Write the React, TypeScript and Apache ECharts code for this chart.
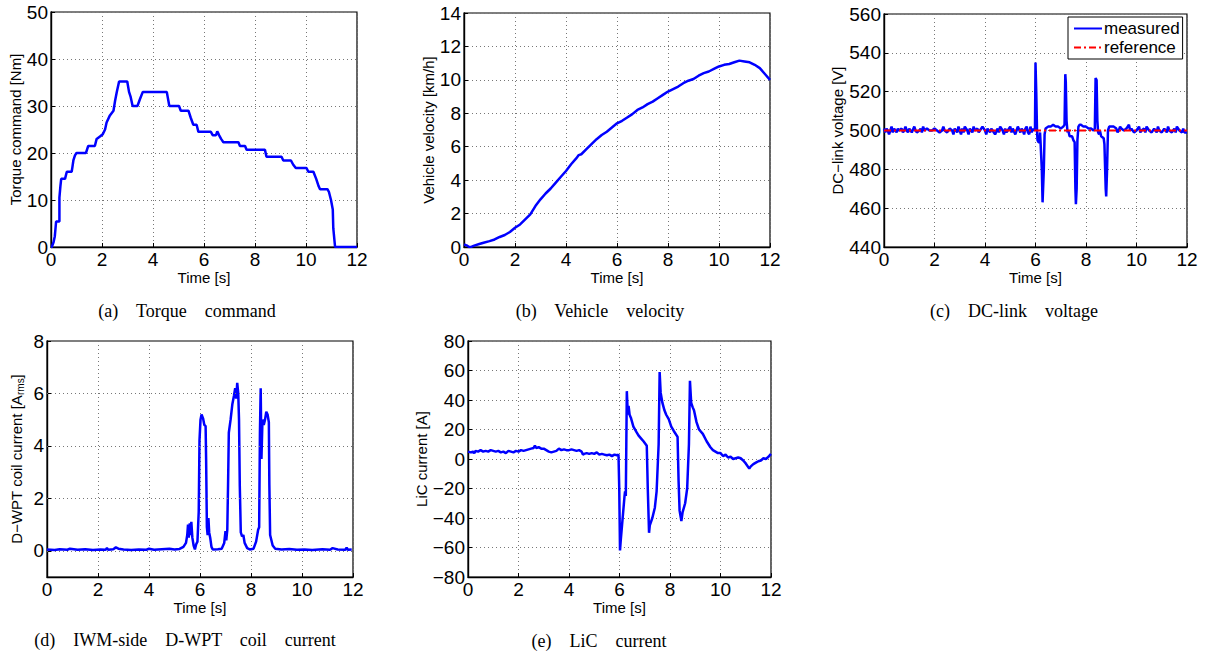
import React, { useEffect, useRef } from "react";
import * as echarts from "echarts";

const SANS = "Liberation Sans, Arial, Helvetica, sans-serif";
const SERIF = "Liberation Serif, Times New Roman, serif";
const BLUE = "#0000ff";

// (a) Torque command [Nm] vs time [s]
const torque: number[][] = [
  [0, 0], [0.03, 0], [0.1, 1], [0.15, 2.3], [0.2, 5.4], [0.33, 5.4], [0.33, 10.5], [0.37, 13], [0.4, 14.5],
  [0.55, 14.5], [0.62, 16], [0.81, 16], [0.84, 17], [0.88, 18.5], [0.94, 19.5], [1.0, 20], [1.37, 20],
  [1.46, 21.5], [1.72, 21.5], [1.79, 23], [1.92, 23.5], [2.03, 24], [2.12, 25], [2.18, 26.5], [2.31, 28],
  [2.45, 29], [2.51, 31], [2.58, 33], [2.67, 35.2], [2.99, 35.2], [3.06, 33], [3.12, 32], [3.2, 30],
  [3.39, 30], [3.49, 31.5], [3.6, 33], [4.54, 33], [4.64, 30], [5.02, 30], [5.09, 29], [5.39, 29],
  [5.48, 27.5], [5.58, 26], [5.71, 26], [5.78, 24.5], [6.27, 24.5], [6.34, 23.8], [6.47, 23.8],
  [6.52, 24.6], [6.59, 23.8], [6.67, 23], [6.76, 22.3], [7.35, 22.3], [7.41, 21.5], [7.61, 21.5],
  [7.67, 20.7], [8.39, 20.7], [8.45, 19.2], [9.04, 19.2], [9.11, 18.4], [9.41, 18.4], [9.5, 17.5],
  [9.6, 16.8], [10.02, 16.8], [10.09, 16], [10.29, 16], [10.4, 14.5], [10.49, 13], [10.55, 12.3],
  [10.84, 12.3], [10.9, 11.7], [10.98, 10], [11.05, 8], [11.07, 4], [11.14, 0], [12, 0],
];

// (b) Vehicle velocity [km/h]
const velocity: number[][] = [
  [0, 0.15], [0.1, 0.1], [0.2, 0.0], [0.3, 0.02], [0.4, 0.08], [0.6, 0.18], [0.8, 0.27], [1.0, 0.35],
  [1.2, 0.45], [1.4, 0.6], [1.6, 0.72], [1.8, 0.9], [2.0, 1.15], [2.2, 1.35], [2.4, 1.65], [2.6, 1.95],
  [2.8, 2.45], [3.0, 2.85], [3.2, 3.2], [3.4, 3.5], [3.6, 3.85], [3.8, 4.2], [4.0, 4.55], [4.2, 4.95],
  [4.4, 5.3], [4.5, 5.5], [4.6, 5.55], [4.8, 5.85], [5.0, 6.15], [5.2, 6.45], [5.4, 6.7], [5.6, 6.9],
  [5.8, 7.15], [6.0, 7.4], [6.2, 7.55], [6.4, 7.75], [6.6, 7.95], [6.8, 8.2], [7.0, 8.35], [7.2, 8.55],
  [7.4, 8.7], [7.6, 8.9], [7.8, 9.1], [8.0, 9.3], [8.2, 9.45], [8.4, 9.6], [8.6, 9.8], [8.8, 9.95],
  [9.0, 10.05], [9.2, 10.25], [9.4, 10.4], [9.6, 10.5], [9.8, 10.65], [10.0, 10.8], [10.2, 10.9],
  [10.4, 10.95], [10.6, 11.05], [10.8, 11.15], [11.0, 11.1], [11.2, 11.05], [11.4, 10.9], [11.6, 10.7],
  [11.8, 10.35], [12.0, 10.0],
];

// (c) DC-link voltage [V], measured
const dcMeasured: number[][] = [
  [0, 501], [0.05, 499], [0.1, 501], [0.15, 500], [0.2, 498], [0.25, 500], [0.3, 502], [0.35, 499],
  [0.4, 501], [0.45, 500], [0.5, 499], [0.55, 501], [0.6, 500], [0.7, 501], [0.75, 499], [0.8, 500],
  [0.85, 502], [0.9, 500], [0.95, 499], [1.0, 501], [1.05, 500], [1.1, 499], [1.2, 502], [1.25, 500],
  [1.3, 499], [1.4, 500], [1.45, 501], [1.5, 499], [1.55, 502], [1.6, 500], [1.7, 501], [1.8, 500],
  [1.9, 500], [2.0, 501], [2.1, 500], [2.2, 499], [2.3, 500], [2.35, 502], [2.4, 500], [2.5, 499],
  [2.6, 501], [2.7, 500], [2.75, 498], [2.8, 501], [2.9, 499], [2.95, 502], [3.0, 500], [3.05, 498],
  [3.1, 501], [3.15, 499], [3.2, 502], [3.3, 500], [3.35, 498], [3.4, 501], [3.5, 499], [3.55, 502],
  [3.6, 500], [3.7, 501], [3.75, 499], [3.8, 500], [3.9, 502], [4.0, 500], [4.05, 498], [4.1, 501],
  [4.2, 499], [4.25, 501], [4.3, 500], [4.4, 498], [4.5, 501], [4.55, 499], [4.6, 502], [4.7, 500],
  [4.75, 498], [4.8, 501], [4.85, 499], [4.9, 500], [5.0, 502], [5.05, 499], [5.1, 501], [5.2, 498],
  [5.25, 500], [5.3, 502], [5.4, 499], [5.45, 501], [5.5, 500], [5.55, 498], [5.6, 501], [5.65, 502],
  [5.7, 499], [5.75, 498], [5.8, 502], [5.85, 499], [5.9, 501], [5.95, 500], [5.98, 501], [6.0, 535],
  [6.03, 520], [6.06, 500], [6.08, 495], [6.12, 494], [6.15, 494], [6.18, 499], [6.2, 494], [6.25, 480],
  [6.28, 463], [6.3, 463], [6.33, 480], [6.36, 498], [6.4, 501], [6.5, 502], [6.6, 502], [6.7, 503],
  [6.8, 502], [6.9, 502], [7.0, 501], [7.1, 502], [7.15, 503], [7.18, 529], [7.2, 525], [7.23, 505],
  [7.27, 499], [7.3, 500], [7.35, 497], [7.45, 497], [7.5, 495], [7.55, 494], [7.58, 470], [7.6, 462],
  [7.63, 470], [7.66, 495], [7.7, 502], [7.75, 503], [7.8, 503], [7.9, 502], [8.0, 502], [8.1, 501],
  [8.2, 501], [8.3, 500], [8.35, 501], [8.38, 527], [8.42, 526], [8.45, 505], [8.48, 499], [8.52, 498],
  [8.55, 500], [8.6, 497], [8.7, 496], [8.73, 493], [8.78, 470], [8.8, 466], [8.83, 478], [8.87, 500],
  [8.92, 502], [9.0, 502], [9.1, 502], [9.2, 501], [9.25, 499], [9.3, 500], [9.35, 502], [9.4, 501],
  [9.5, 500], [9.6, 501], [9.7, 503], [9.75, 500], [9.8, 501], [9.9, 499], [10.0, 500], [10.1, 502],
  [10.15, 499], [10.2, 500], [10.3, 501], [10.35, 499], [10.4, 502], [10.5, 500], [10.6, 499],
  [10.7, 501], [10.8, 499], [10.85, 502], [10.9, 500], [11.0, 499], [11.1, 501], [11.2, 499],
  [11.25, 502], [11.3, 500], [11.4, 499], [11.5, 501], [11.55, 499], [11.6, 502], [11.7, 500],
  [11.8, 499], [11.85, 501], [11.9, 499], [12.0, 499],
];
const dcReference: number[][] = [[0, 500], [12, 500]];

// (d) IWM-side D-WPT coil current [Arms]
const coilCurrent: number[][] = [
  [0, 0.05], [0.3, 0.03], [0.5, 0.06], [0.8, 0.04], [0.9, 0.08], [1.2, 0.04], [1.5, 0.06], [1.8, 0.03],
  [2.1, 0.05], [2.3, 0.04], [2.35, 0.1], [2.4, 0.04], [2.6, 0.06], [2.7, 0.13], [2.8, 0.08], [3.0, 0.05],
  [3.3, 0.03], [3.6, 0.05], [3.9, 0.04], [4.0, 0.08], [4.2, 0.04], [4.5, 0.06], [4.8, 0.08], [5.0, 0.05],
  [5.2, 0.07], [5.35, 0.15], [5.45, 0.3], [5.5, 0.6], [5.53, 1.0], [5.56, 0.5], [5.6, 1.05], [5.63, 0.6],
  [5.66, 1.1], [5.7, 0.5], [5.75, 0.2], [5.8, 0.05], [5.85, 0.25], [5.9, 0.35], [5.95, 1.5], [5.98, 4.2],
  [6.02, 5.0], [6.06, 5.2], [6.12, 5.05], [6.17, 4.8], [6.22, 4.75], [6.24, 3.5], [6.27, 0.9], [6.3, 0.6],
  [6.33, 1.25], [6.36, 0.7], [6.4, 0.5], [6.45, 0.15], [6.5, 0.05], [6.7, 0.06], [6.85, 0.08], [6.95, 0.3],
  [7.0, 0.75], [7.03, 0.4], [7.07, 0.8], [7.1, 2.5], [7.13, 4.5], [7.2, 5.0], [7.27, 5.6], [7.33, 5.9],
  [7.38, 6.2], [7.42, 5.8], [7.46, 6.4], [7.5, 6.0], [7.53, 5.0], [7.56, 2.5], [7.6, 0.7], [7.65, 0.55],
  [7.7, 0.6], [7.75, 0.3], [7.85, 0.1], [7.95, 0.05], [8.1, 0.08], [8.2, 0.35], [8.28, 0.8], [8.32, 0.9],
  [8.35, 4.5], [8.38, 6.2], [8.41, 3.5], [8.45, 5.0], [8.5, 4.8], [8.55, 5.0], [8.6, 5.3], [8.65, 5.2],
  [8.7, 4.9], [8.72, 2.5], [8.75, 0.6], [8.8, 0.4], [8.85, 0.2], [8.95, 0.08], [9.2, 0.05], [9.5, 0.07],
  [9.8, 0.04], [10.1, 0.05], [10.4, 0.03], [10.8, 0.06], [11.1, 0.04], [11.2, 0.1], [11.4, 0.05],
  [11.7, 0.04], [11.75, 0.12], [11.8, 0.04], [11.95, 0.05],
];
const coilGridValues = [0, 2, 4, 6];

// (e) LiC current [A]
const licCurrent: number[][] = [
  [0, 5], [0.1, 4.5], [0.2, 5], [0.25, 4], [0.3, 5.5], [0.4, 5], [0.5, 6], [0.6, 5], [0.7, 5.5], [0.8, 5],
  [0.9, 6], [1.0, 5.5], [1.1, 5], [1.2, 5.5], [1.3, 4.5], [1.4, 5], [1.5, 4], [1.6, 5.5], [1.7, 5],
  [1.8, 4.5], [1.9, 5.5], [2.0, 5], [2.1, 6], [2.2, 5.5], [2.3, 6], [2.4, 6.5], [2.5, 7], [2.6, 7.5],
  [2.65, 9], [2.7, 7.5], [2.8, 8], [2.9, 7], [3.0, 7], [3.1, 6], [3.2, 5], [3.3, 4.5], [3.4, 5], [3.5, 5.5],
  [3.6, 7], [3.7, 6], [3.8, 6.5], [3.9, 6], [4.0, 6], [4.1, 6.5], [4.2, 6], [4.3, 5.5], [4.4, 6], [4.5, 5],
  [4.55, 3], [4.6, 3.5], [4.7, 4], [4.8, 3.5], [4.9, 4], [5.0, 3.5], [5.1, 4.5], [5.2, 3], [5.3, 3.5],
  [5.4, 3], [5.5, 2.5], [5.6, 3], [5.7, 2], [5.8, 3], [5.9, 2.5], [5.96, 3], [5.99, -20], [6.02, -62],
  [6.05, -55], [6.1, -45], [6.15, -35], [6.2, -25], [6.22, -22], [6.25, -25], [6.27, 10], [6.29, 46],
  [6.33, 30], [6.36, 36], [6.4, 30], [6.45, 28], [6.55, 22], [6.68, 18], [6.75, 16], [6.85, 14],
  [6.95, 12], [7.08, 9], [7.12, -20], [7.17, -50], [7.2, -45], [7.3, -40], [7.4, -33], [7.47, -22],
  [7.55, 10], [7.59, 59], [7.63, 45], [7.7, 38], [7.78, 33], [7.85, 30], [7.95, 27], [8.05, 22],
  [8.15, 19], [8.3, 15], [8.34, -15], [8.38, -35], [8.45, -42], [8.5, -36], [8.6, -30], [8.68, -20],
  [8.75, 10], [8.79, 53], [8.84, 38], [8.9, 35], [8.95, 33], [9.05, 25], [9.15, 20], [9.3, 17],
  [9.45, 12], [9.6, 8], [9.7, 6], [9.8, 5], [9.9, 4], [10.0, 4], [10.1, 2], [10.2, 3], [10.3, 1],
  [10.4, 1.5], [10.5, 0], [10.6, 0.5], [10.7, 1], [10.8, 0.5], [10.9, -1], [11.0, -3], [11.14, -6.5],
  [11.2, -5], [11.3, -3.5], [11.4, -2.5], [11.5, -1.5], [11.6, -1], [11.7, 0.5], [11.8, 0], [11.9, 1.5],
  [12.0, 3.5],
];

const timeTicks = { min: 0, max: 12, interval: 2 };

const captions = [
  { text: "(a)    Torque    command", x: 187, y: 311 },
  { text: "(b)    Vehicle    velocity", x: 600, y: 311 },
  { text: "(c)    DC-link    voltage", x: 1014, y: 311 },
  { text: "(d)    IWM-side    D-WPT    coil    current", x: 185, y: 640 },
  { text: "(e)    LiC    current", x: 599, y: 641 },
];

const grids = [
  { left: 51, top: 12, width: 306, height: 235 },
  { left: 464, top: 13, width: 306, height: 234 },
  { left: 884, top: 14, width: 303, height: 233 },
  { left: 47, top: 341, width: 306, height: 236 },
  { left: 468, top: 341, width: 303, height: 236 },
];

const minusFmt = (v: number) => (v < 0 ? "\u2212" + Math.abs(v) : String(v));

const gridLine = { show: true, lineStyle: { type: [1, 3] as any, color: "#777", width: 1 } };
const TICK_FS = 19;
const NAME_FS = 15;

function xAxisFor(i: number) {
  return {
    type: "value",
    gridIndex: i,
    min: timeTicks.min,
    max: timeTicks.max,
    interval: timeTicks.interval,
    name: "Time [s]",
    nameLocation: "middle",
    nameGap: 21,
    nameTextStyle: { fontFamily: SANS, fontSize: NAME_FS, color: "#000" },
    axisLine: { show: true, onZero: false, lineStyle: { color: "#000", width: 1.4 } },
    axisTick: { show: true, inside: true, length: 4, lineStyle: { color: "#000" } },
    axisLabel: { fontFamily: SANS, fontSize: TICK_FS, color: "#000", margin: 3 },
    splitLine: gridLine,
  };
}

function yAxisFor(i: number, name: any, min: number, max: number, interval: number | undefined, gap: number, extra: any = {}) {
  const ax: any = {
    type: "value",
    gridIndex: i,
    min,
    max,
    name,
    nameLocation: "middle",
    nameGap: gap,
    nameTextStyle: { fontFamily: SANS, fontSize: NAME_FS, color: "#000" },
    axisLine: { show: true, onZero: false, lineStyle: { color: "#000", width: 1.4 } },
    axisTick: { show: true, inside: true, length: 4, lineStyle: { color: "#000" } },
    axisLabel: { fontFamily: SANS, fontSize: TICK_FS, color: "#000", margin: 3, formatter: minusFmt },
    splitLine: gridLine,
    ...extra,
  };
  if (interval !== undefined) ax.interval = interval;
  return ax;
}

function lineSeries(name: string, data: number[][], i: number, extra: any = {}) {
  return {
    type: "line",
    name,
    data,
    xAxisIndex: i,
    yAxisIndex: i,
    showSymbol: false,
    symbol: "none",
    silent: true,
    lineStyle: { color: BLUE, width: 2.5 },
    itemStyle: { color: BLUE },
    ...extra,
  };
}

export default function App() {
  const ref = useRef<HTMLDivElement>(null);
  useEffect(() => {
    document.body.style.margin = "0";
    const chart = echarts.init(ref.current!, null, { renderer: "svg" });
    chart.setOption({
      animation: false,
      backgroundColor: "#fff",
      textStyle: { fontFamily: SANS },
      grid: grids.map((g) => ({ ...g, show: true, borderColor: "#000", borderWidth: 1.2, backgroundColor: "transparent" })),
      xAxis: grids.map((_, i) => xAxisFor(i)),
      yAxis: [
        yAxisFor(0, "Torque command [Nm]", 0, 50, 10, 25.5),
        yAxisFor(1, "Vehicle velocity [km/h]", 0, 14, 2, 26.5),
        yAxisFor(2, "DC\u2212link voltage [V]", 440, 560, 20, 34.5),
        yAxisFor(3, "D\u2212WPT coil current [A{s|rms}]", -1, 8, undefined, 22, {
          splitNumber: 5,
          splitLine: { show: false },
          axisLabel: {
            fontFamily: SANS, fontSize: TICK_FS, color: "#000", margin: 3,
            formatter: (v: number) => (v < 0 ? "" : String(v)),
          },
          nameTextStyle: {
            fontFamily: SANS, fontSize: NAME_FS, color: "#000",
            rich: { s: { fontFamily: SANS, fontSize: 10, color: "#000", padding: [8, 0, 0, 0] } },
          },
        }),
        yAxisFor(4, "LiC current [A]", -80, 80, 20, 37.5),
      ],
      legend: {
        left: 1068,
        top: 17,
        orient: "vertical",
        borderColor: "#000",
        borderWidth: 1,
        borderRadius: 0,
        backgroundColor: "#fff",
        padding: [3, 3, 3, 5],
        itemGap: 2,
        itemWidth: 28,
        itemHeight: 17,
        itemStyle: { opacity: 0 },
        textStyle: { fontFamily: SANS, fontSize: 17, color: "#000", padding: [0, 0, 0, -3] },
        data: ["measured", "reference"],
        selectedMode: false,
      },
      series: [
        lineSeries("torque", torque, 0),
        lineSeries("velocity", velocity, 1),
        lineSeries("measured", dcMeasured, 2),
        lineSeries("reference", dcReference, 2, {
          lineStyle: { color: "#ff0000", width: 2, type: [7, 3, 2, 3] },
          itemStyle: { color: "#ff0000" },
        }),
        lineSeries("coil", coilCurrent, 3, {
          markLine: {
            silent: true,
            symbol: "none",
            label: { show: false },
            lineStyle: { type: [1, 3], color: "#777", width: 1 },
            data: coilGridValues.map((v) => ({ yAxis: v })),
          },
        }),
        lineSeries("lic", licCurrent, 4),
      ],
      graphic: captions.map((c) => ({
        type: "text",
        x: c.x,
        y: c.y,
        style: {
          text: c.text,
          fontFamily: SERIF,
          fontSize: 18,
          fill: "#000",
          textAlign: "center",
          textVerticalAlign: "middle",
        },
      })),
    });
    return () => chart.dispose();
  }, []);
  return <div ref={ref} style={{ width: 1205, height: 658 }} />;
}
